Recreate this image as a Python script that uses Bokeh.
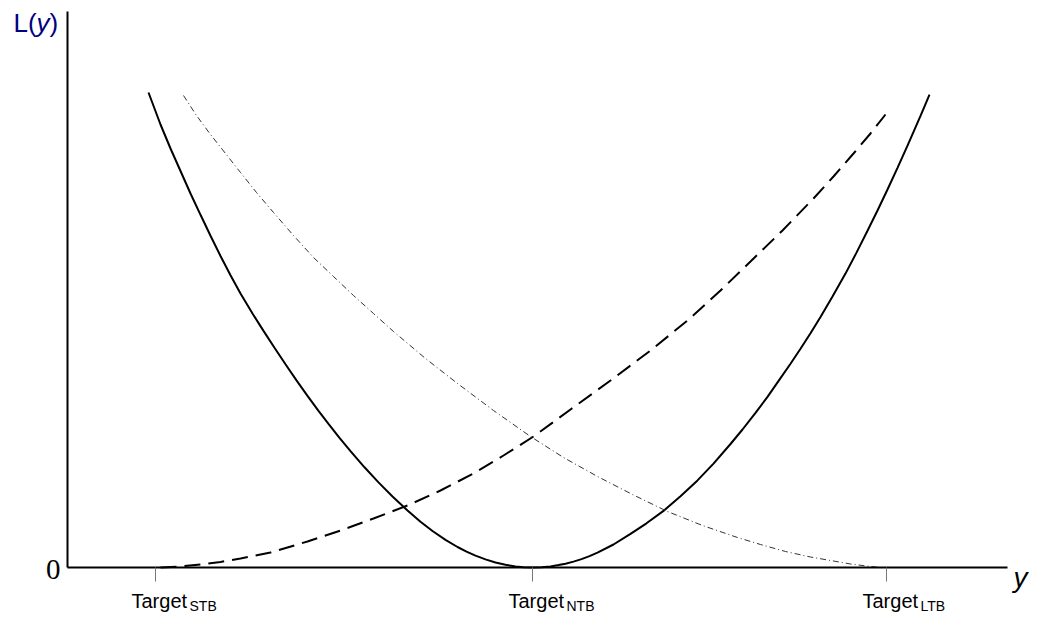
from bokeh.plotting import figure
from bokeh.models import Range1d, FixedTicker, Label
from bokeh.embed import file_html
from bokeh.resources import INLINE

# ---- data (x = y-value, L = loss) ----
nominal_x = [0.81, 0.87, 0.93, 1.03, 1.13, 1.23, 1.33, 1.43, 1.53, 1.63, 1.73, 1.85, 1.96, 2.07,
             2.18, 2.29, 2.40, 2.51, 2.61, 2.72, 2.83, 2.97, 3.11, 3.25, 3.40, 3.53, 3.65, 3.78,
             3.90, 3.99, 4.08, 4.18, 4.28, 4.38, 4.48, 4.56, 4.65,
             4.74, 4.83, 4.91, 4.98, 5.06, 5.14, 5.22, 5.30, 5.46, 5.63, 5.79, 5.96, 6.13, 6.30,
             6.46, 6.63, 6.75, 6.88, 7.00, 7.13, 7.23, 7.33, 7.43, 7.53, 7.65, 7.78, 7.89, 8.00,
             8.10, 8.20, 8.30, 8.40, 8.47, 8.53, 8.58, 8.62]
nominal_L = [4.75, 4.59, 4.43, 4.19, 3.965, 3.74, 3.527, 3.318, 3.115, 2.923, 2.741, 2.54, 2.366,
             2.197, 2.032, 1.871, 1.716, 1.566, 1.436, 1.296, 1.163, 1.002, 0.851, 0.71, 0.57,
             0.458, 0.365, 0.276, 0.205, 0.159, 0.119, 0.081, 0.05, 0.027, 0.0105, 0.003, 0.0,
             0.003, 0.011, 0.024, 0.038, 0.059, 0.084, 0.114, 0.148, 0.23, 0.336, 0.442, 0.566,
             0.712, 0.871, 1.039, 1.235, 1.38, 1.547, 1.706, 1.894, 2.037, 2.187, 2.342, 2.505,
             2.709, 2.939, 3.149, 3.367, 3.57, 3.78, 3.997, 4.219, 4.378, 4.516, 4.633, 4.728]

smaller_x = [0.93, 1.13, 1.33, 1.53, 1.73, 2.03, 2.40, 2.73, 3.06, 3.40, 3.73, 4.06, 4.36,
             4.66, 5.03, 5.43, 5.83, 6.20, 6.53, 6.83, 7.15, 7.46, 7.66, 7.86, 8.03, 8.18]
smaller_L = [0.0, 0.01, 0.03, 0.055, 0.09, 0.15, 0.26, 0.37, 0.49, 0.62, 0.77, 0.94, 1.12,
             1.31, 1.58, 1.87, 2.17, 2.47, 2.77, 3.06, 3.37, 3.69, 3.91, 4.14, 4.34, 4.53]

larger_x = [1.16, 1.29, 1.43, 1.58, 1.73, 1.89, 2.06, 2.26, 2.46, 2.66, 2.86, 3.06, 3.26, 3.58,
            3.90, 4.26, 4.63, 4.96, 5.30, 5.65, 6.00, 6.35, 6.70, 6.93, 7.18, 7.43, 7.63, 7.83,
            8.03, 8.13]
larger_L = [4.72, 4.52, 4.33, 4.14, 3.95, 3.75, 3.55, 3.32, 3.10, 2.91, 2.72, 2.54, 2.36, 2.09,
            1.84, 1.57, 1.31, 1.10, 0.91, 0.73, 0.56, 0.42, 0.30, 0.23, 0.16, 0.105, 0.07, 0.035,
            0.01, 0.0]

target_x = [0.88, 4.65, 8.19]
target_main = "Target"
target_sub = ["STB", "NTB", "LTB"]
x_axis_end = 9.40
y_axis_end = 5.56

W, H = 1037, 624
# the plot frame covers the whole canvas; axes are drawn at fixed locations with bounds
p = figure(width=W, height=H, output_backend="svg", toolbar_location=None,
           x_range=Range1d(-0.67, 9.70), y_range=Range1d(-0.57, 5.67),
           min_border=0, min_border_left=0, min_border_right=0,
           min_border_top=0, min_border_bottom=0)
p.outline_line_color = None
p.grid.visible = False
p.background_fill_color = "white"
p.border_fill_color = "white"

p.line(nominal_x, nominal_L, line_color="black", line_width=2)
p.line(smaller_x, smaller_L, line_color="black", line_width=2, line_dash="16 8")
p.line(larger_x, larger_L, line_color="#333333", line_width=1, line_dash="6 3 1 3")

# x axis: line + ticks (labels drawn separately)
xa = p.xaxis[0]
xa.fixed_location = 0
xa.bounds = (0, x_axis_end)
xa.ticker = FixedTicker(ticks=target_x)
xa.minor_tick_line_color = None
xa.major_tick_in = 0
xa.major_tick_out = 14
xa.major_tick_line_color = "#777777"
xa.major_tick_line_width = 1
xa.axis_line_width = 2
xa.axis_line_color = "black"
xa.major_label_text_color = None
xa.major_label_standoff = 0

# y axis: line only
ya = p.yaxis[0]
ya.fixed_location = 0
ya.bounds = (0, y_axis_end)
ya.ticker = FixedTicker(ticks=[])
ya.minor_tick_line_color = None
ya.major_tick_line_color = None
ya.major_tick_in = 0
ya.major_tick_out = 0
ya.axis_line_width = 2
ya.axis_line_color = "black"
ya.major_label_text_color = None
ya.major_label_standoff = 0

# texts
sans = "Liberation Sans"
p.add_layout(Label(x=0, y=0, x_offset=-7, y_offset=-2, text="0", text_align="right",
                   text_baseline="alphabetic", text_font="Liberation Serif",
                   text_font_size="29px", text_color="black"))
for t, s in zip(target_x, target_sub):
    p.add_layout(Label(x=t, y=0, x_offset=-24, y_offset=-33, text=target_main,
                       text_align="left", text_baseline="alphabetic", text_font=sans,
                       text_font_size="20px", text_color="black"))
    p.add_layout(Label(x=t, y=0, x_offset=34, y_offset=-38, text=s,
                       text_align="left", text_baseline="alphabetic", text_font=sans,
                       text_font_size="14px", text_color="black"))

navy = "#000080"
p.add_layout(Label(x=0, y=y_axis_end, x_offset=-54, y_offset=-11, text="L(",
                   text_baseline="alphabetic", text_font=sans, text_font_size="26px",
                   text_color=navy))
p.add_layout(Label(x=0, y=y_axis_end, x_offset=-31, y_offset=-11, text="y",
                   text_baseline="alphabetic", text_font=sans, text_font_style="italic",
                   text_font_size="26px", text_color=navy))
p.add_layout(Label(x=0, y=y_axis_end, x_offset=-18, y_offset=-11, text=")",
                   text_baseline="alphabetic", text_font=sans, text_font_size="26px",
                   text_color=navy))
p.add_layout(Label(x=x_axis_end, y=0, x_offset=6, y_offset=-10, text="y",
                   text_baseline="alphabetic", text_font=sans, text_font_style="italic",
                   text_font_size="28px", text_color="black"))

open("out.html", "w").write(file_html(p, INLINE))
